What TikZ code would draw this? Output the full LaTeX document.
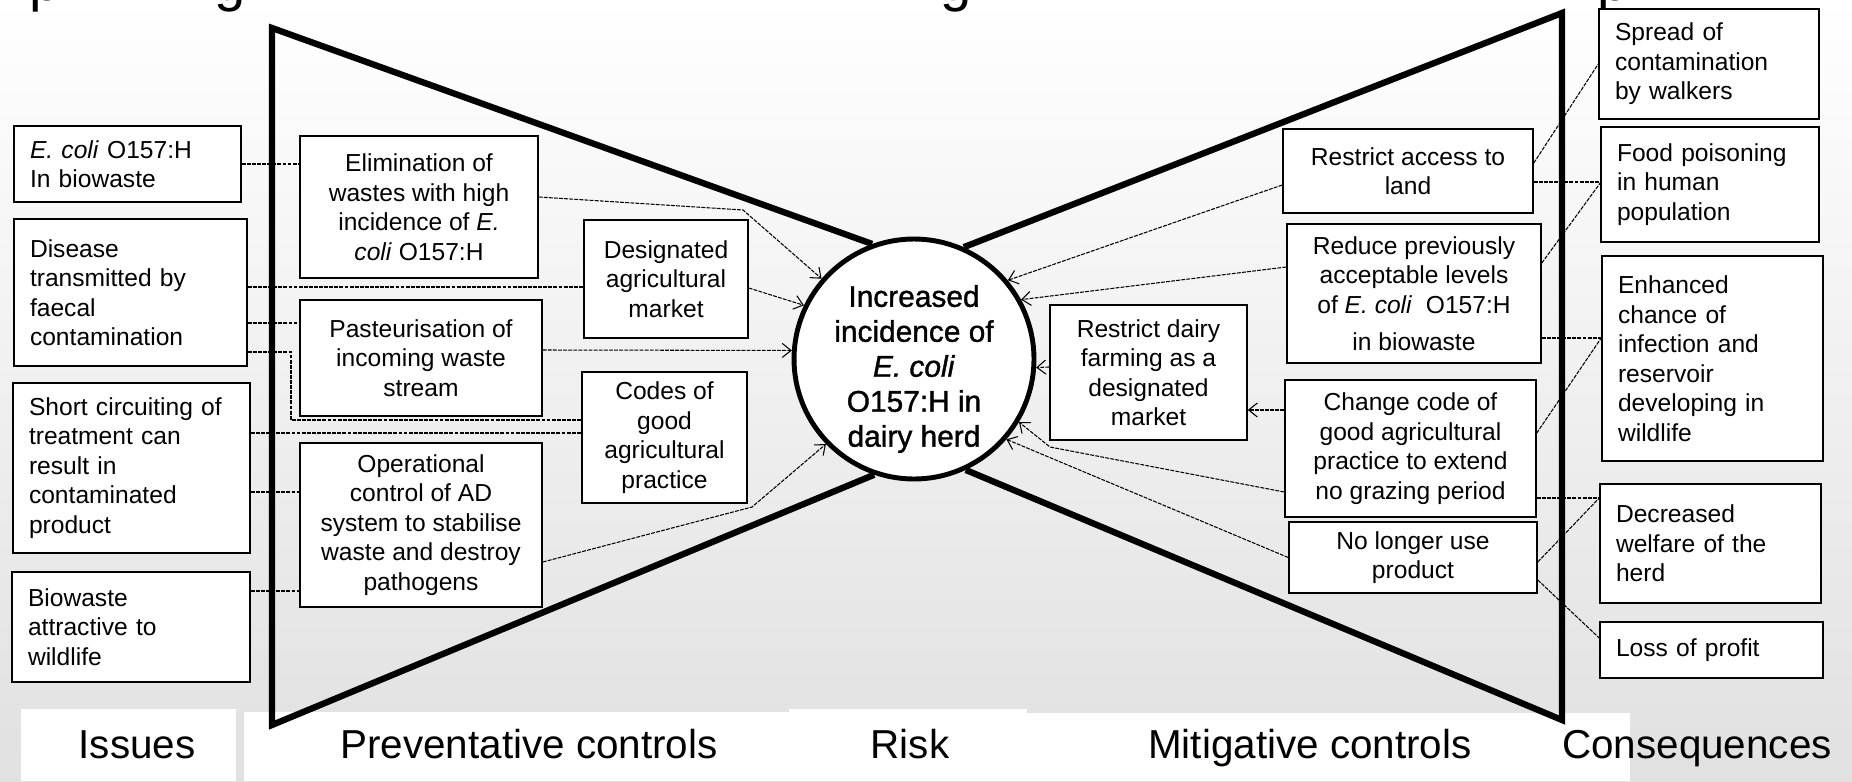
\documentclass[tikz,border=0pt]{standalone}
\usepackage{fontspec}
\setmainfont{Liberation Sans}
\usetikzlibrary{arrows.meta}
\tikzset{
  box/.style={draw=black, line width=0.9pt, fill=white, inner ysep=2pt,
    font=\fontsize{14pt}{16.8pt}\selectfont},
  issue/.style={box, align=left, inner xsep=0.32cm},
  control/.style={box, align=center, inner xsep=2pt},
  risknode/.style={circle, draw=black, line width=2.8pt, fill=white,
    minimum size=4.8cm, inner sep=0pt},
  risktext/.style={align=center, inner sep=0pt,
    font=\fontsize{17pt}{19.9pt}\selectfont\addfontfeature{FakeBold=1.2}},
  link/.style={line width=0.6pt, dash pattern=on 2.2pt off 0.7pt},
  arr/.style={link, -{Straight Barb[length=5pt,width=8pt]}},
  tie/.style={line width=3.6pt},
  phase/.style={anchor=base, font=\fontsize{23pt}{27pt}\selectfont},
  cut/.style={anchor=base west, inner sep=0pt, font=\fontsize{32pt}{36pt}\selectfont}
}

\begin{document}
\begin{tikzpicture}[x=0.02cm, y=-0.02cm]
  \useasboundingbox (0,0) rectangle (1852,781);
  \shade[top color=white, middle color=black!2, bottom color=black!12] (0,0) rectangle (1852,781);
  \fill[white] (21,709) rectangle (236,781);
  \fill[white] (244,712) rectangle (789,781);
  \fill[white] (789,709) rectangle (1027,781);
  \fill[white] (1027,713) rectangle (1630,781);

  \node[cut] (t1) at (29,0) {p};
  \node[cut] (t2) at (214,0) {g};
  \node[cut] (t3) at (940,0) {g};
  \node[cut] (t4) at (1597,0) {p};

  \node[issue, text width=3.90cm, minimum width=4.54cm, minimum height=1.52cm] (ecoli) at (127.5,164)
    {\textit{E. coli} O157:H\\In biowaste};
  \node[issue, text width=4.02cm, minimum width=4.66cm, minimum height=2.94cm] (disease) at (130.5,292.5)
    {Disease\\transmitted by\\faecal\\contamination};
  \node[issue, text width=4.10cm, minimum width=4.74cm, minimum height=3.40cm] (short) at (131.5,468)
    {Short circuiting of\\treatment can\\result in\\contaminated\\product};
  \node[issue, text width=4.12cm, minimum width=4.76cm, minimum height=2.20cm] (bio) at (131,627)
    {Biowaste\\attractive to\\wildlife};

  \node[control, minimum width=4.76cm, minimum height=2.84cm] (elim) at (419,207)
    {Elimination of\\wastes with high\\incidence of \textit{E.}\\\textit{coli} O157:H};
  \node[control, minimum width=4.84cm, minimum height=2.32cm] (past) at (421,358)
    {Pasteurisation of\\incoming waste\\stream};
  \node[control, minimum width=4.84cm, minimum height=3.28cm] (oper) at (421,525)
    {Operational\\control of AD\\system to stabilise\\waste and destroy\\pathogens};
  \node[control, minimum width=3.28cm, minimum height=2.36cm] (desig) at (666,279)
    {Designated\\agricultural\\market};
  \node[control, minimum width=3.30cm, minimum height=2.62cm] (codes) at (664.5,437.5)
    {Codes of\\good\\agricultural\\practice};

  \node[risknode] (risk) at (914,359) {};
  \node[risktext] (risklines) at (914,369)
    {Increased\\incidence of\\\textit{E. coli}\\O157:H in\\dairy herd};

  \node[control, minimum width=3.94cm, minimum height=2.70cm] (dairy) at (1148.5,372.5)
    {Restrict dairy\\farming as a\\designated\\market};
  \node[control, minimum width=5.00cm, minimum height=1.68cm] (access) at (1408,171)
    {Restrict access to\\land};
  \node[control, minimum width=5.08cm, minimum height=2.78cm] (reduce) at (1414,293.5)
    {Reduce previously\\acceptable levels\\of \textit{E. coli}~ O157:H\\[0.15cm]in biowaste};
  \node[control, minimum width=5.02cm, minimum height=2.74cm] (change) at (1410.5,448.5)
    {Change code of\\good agricultural\\practice to extend\\no grazing period};
  \node[control, minimum width=4.96cm, minimum height=1.42cm] (nolonger) at (1413,557.5)
    {No longer use\\product};

  \node[issue, text width=3.76cm, minimum width=4.40cm, minimum height=2.20cm] (spread) at (1709,64)
    {Spread of\\contamination\\by walkers};
  \node[issue, text width=3.72cm, minimum width=4.36cm, minimum height=2.30cm] (food) at (1710,184.5)
    {Food poisoning\\in human\\population};
  \node[issue, text width=3.78cm, minimum width=4.42cm, minimum height=4.10cm] (enh) at (1712.5,358.5)
    {Enhanced\\chance of\\infection and\\reservoir\\developing in\\wildlife};
  \node[issue, text width=3.78cm, minimum width=4.42cm, minimum height=2.38cm] (decr) at (1710.5,543.5)
    {Decreased\\welfare of the\\herd};
  \node[issue, text width=3.82cm, minimum width=4.46cm, minimum height=1.12cm] (loss) at (1711.5,650)
    {Loss of profit};

  \draw[tie] (risk.110) -- (272,28) -- (272,725) -- (risk.251);
  \draw[tie] (risk.66) -- (1562,13) -- (1562,720) -- (risk.295);

  \draw[link] (ecoli.east) -- (ecoli.east -| elim.west);
  \draw[link] (disease.east |- 0,287) -- (desig.west |- 0,287);
  \draw[link] (disease.east |- 0,323) -- (past.west |- 0,323);
  \draw[link] (disease.east |- 0,352) -| (291,420) -- (codes.west |- 0,420);
  \draw[link] (short.east |- 0,433) -- (codes.west |- 0,433);
  \draw[link] (short.east |- 0,492) -- (oper.west |- 0,492);
  \draw[link] (bio.east |- 0,591) -- (oper.west |- 0,591);

  \draw[arr] (elim.east |- 0,197) -- (743,210) -- (risk.139);
  \draw[arr] (desig.east |- 0,288) -- (risk.154);
  \draw[arr] (past.east |- 0,350) -- (risk.176);
  \draw[arr] (oper.east |- 0,562) -- (752,507) -- (risk.224);

  \draw[arr] (access.west |- 0,185) -- (risk.40);
  \draw[arr] (reduce.west |- 0,267) -- (risk.29);
  \draw[arr] (dairy.west |- 0,367) -- (risk.-4);
  \draw[arr] (change.west |- 0,410) -- (dairy.east |- 0,410);
  \draw[arr] (change.west |- 0,492) -- (1050,447) -- (risk.-31);
  \draw[arr] (nolonger.west) -- (risk.-41);

  \draw[link] (access.east |- 0,163) -- (spread.west);
  \draw[link] (access.east |- 0,182) -- (food.west |- 0,182);
  \draw[link] (reduce.east |- 0,263) -- (food.west |- 0,183);
  \draw[link] (reduce.east |- 0,338) -- (enh.west |- 0,338);
  \draw[link] (change.east |- 0,433) -- (enh.west |- 0,338);
  \draw[link] (change.east |- 0,498) -- (decr.west |- 0,498);
  \draw[link] (nolonger.east |- 0,562) -- (decr.west |- 0,498);
  \draw[link] (nolonger.east |- 0,580) -- (loss.west |- 0,638);

  \node[phase] (issues) at (137,758) {Issues};
  \node[phase] (prevent) at (529,758) {Preventative controls};
  \node[phase] (risklabel) at (910,758) {Risk};
  \node[phase] (mitig) at (1310,758) {Mitigative controls};
  \node[phase] (conseq) at (1697,758) {Consequences};
\end{tikzpicture}
\end{document}
